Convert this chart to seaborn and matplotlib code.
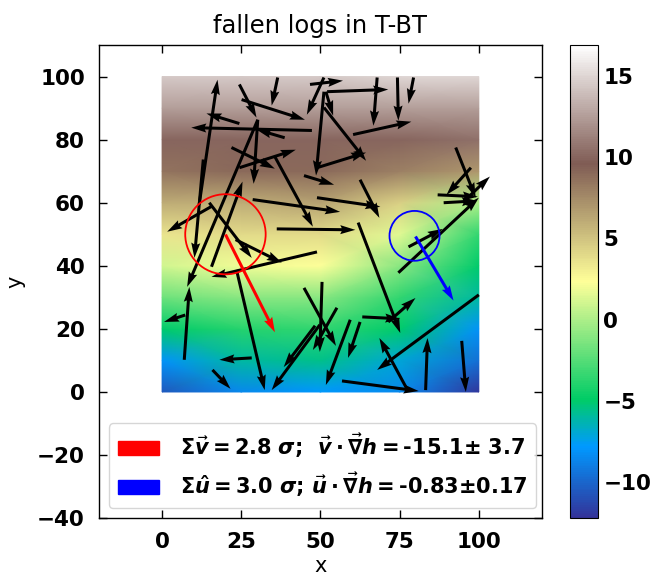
import numpy as np
import matplotlib
matplotlib.use("Agg")
import matplotlib.pyplot as plt
import matplotlib.patches as mpatches
import seaborn as sns

# height field on a coarse grid
grid_x = [0, 25, 50, 75, 100]
grid_y = [0, 10, 20, 30, 40, 50, 60, 70, 80, 90, 100]
height = [
    [-10.5, -8.5, -7.8, -8.5, -12.0],
    [-8.0, -6.0, -5.5, -7.0, -9.5],
    [-5.0, -3.8, -3.5, -5.0, -8.0],
    [-1.8, -1.0, -1.0, -3.5, -6.0],
    [1.0, 2.0, 2.3, -1.0, -5.0],
    [3.5, 4.0, 4.0, 1.5, -3.5],
    [6.0, 6.0, 6.5, 4.5, 0.0],
    [8.5, 9.0, 9.0, 8.0, 7.0],
    [10.0, 10.0, 10.0, 10.0, 10.5],
    [12.5, 12.5, 12.5, 12.5, 12.5],
    [14.5, 14.5, 14.5, 15.0, 15.0],
]

# fallen logs: start (tail) and end (head) points
log_x0 = [11.7, 13.0, 24.4, 25.1, 36.5, 24.4, 47.3, 38.7, 30.2, 21.9, 24.4, 15.6, 15.9,
          14.9, 23.2, 48.9, 23.5, 28.3, 15.9, 7.3, 7.0, 30.2, 46.7, 51.1, 52.1, 51.7,
          51.1, 51.1, 48.9, 44.8, 28.6, 35.6, 48.9, 36.2, 62.5, 60.3, 67.9, 74.3, 79.4,
          92.7, 97.5, 87.0, 88.9, 96.2, 74.6, 77.8, 50.5, 44.8, 55.2, 48.3, 49.8, 59.4,
          62.5, 61.9, 63.2, 71.4, 100.0, 77.5, 56.8, 83.2, 94.6]
log_y0 = [59.4, 73.7, 97.5, 92.7, 99.7, 85.1, 82.9, 80.6, 86.3, 77.5, 71.1, 39.7, 59.0,
          60.0, 48.3, 44.4, 38.7, 10.8, 7.0, 24.4, 10.2, 86.3, 97.5, 99.7, 95.2, 95.2,
          95.2, 90.2, 71.1, 68.6, 61.0, 74.6, 61.6, 51.7, 67.3, 81.6, 99.7, 99.7, 99.7,
          77.5, 71.1, 62.5, 60.0, 61.3, 37.8, 46.0, 34.9, 33.0, 26.7, 21.0, 21.3, 22.9,
          22.2, 53.7, 23.8, 22.2, 30.8, 0.6, 3.5, 0.6, 16.2]
log_x1 = [17.5, 10.2, 29.8, 45.1, 34.6, 14.0, 9.2, 29.8, 7.9, 35.6, 42.2, 25.4, 1.6,
          28.3, 37.8, 15.6, 32.4, 18.1, 21.6, 0.6, 8.6, 28.9, 57.1, 45.7, 71.4, 54.0,
          48.6, 64.4, 64.4, 54.3, 56.2, 47.6, 68.9, 61.0, 68.6, 78.7, 66.7, 74.6, 77.8,
          99.0, 89.8, 99.7, 99.4, 103.5, 100.0, 88.6, 49.8, 54.9, 47.6, 38.4, 34.6, 51.7,
          58.7, 75.2, 75.2, 80.0, 67.9, 68.6, 81.0, 83.8, 95.9]
log_y1 = [99.0, 42.5, 87.0, 86.3, 90.8, 88.3, 83.8, 83.2, 33.3, 70.8, 76.8, 66.7, 50.8,
          42.5, 41.0, 36.5, 0.6, 10.2, 1.0, 22.2, 33.3, 66.0, 98.7, 87.9, 95.9, 87.6,
          68.6, 73.3, 75.9, 65.7, 57.1, 52.4, 58.7, 51.4, 55.2, 85.7, 84.4, 86.0, 91.4,
          61.6, 62.5, 61.9, 60.6, 68.3, 61.6, 51.7, 12.7, 14.6, 13.3, 7.9, 0.6, 2.2,
          10.8, 18.7, 23.2, 29.8, 7.0, 17.1, 0.3, 17.1, 0.0]

# summary vectors and the circles around their origins
red_start, red_end = (20.0, 50.0), (35.6, 19.0)
blue_start, blue_end = (79.7, 49.5), (91.7, 29.2)
red_radius, blue_radius = 12.7, 7.9

label_red = r'$\Sigma\vec{v} = 2.8\ \sigma$;  $\vec{v}\cdot\vec{\nabla}h = $-15.1$\pm$ 3.7'
label_blue = r'$\Sigma\hat{u} = 3.0\ \sigma$; $\vec{u}\cdot\vec{\nabla}h = $-0.83$\pm$0.17'

sns.set_style("ticks")
plt.rcParams['font.family'] = ['DejaVu Sans']
plt.rcParams['text.color'] = 'black'
plt.rcParams['axes.labelcolor'] = 'black'
plt.rcParams['axes.edgecolor'] = 'black'
plt.rcParams['xtick.color'] = 'black'
plt.rcParams['ytick.color'] = 'black'
plt.rcParams['mathtext.fontset'] = 'custom'
plt.rcParams['mathtext.rm'] = 'DejaVu Sans:bold'
plt.rcParams['mathtext.it'] = 'DejaVu Sans:italic:bold'
plt.rcParams['mathtext.bf'] = 'DejaVu Sans:bold'

fig = plt.figure(figsize=(6.54, 5.77), dpi=100)
ax = fig.add_axes([0.151, 0.102, 0.678, 0.820])
cax = fig.add_axes([0.872, 0.102, 0.043, 0.820])

X, Y = np.meshgrid(grid_x, grid_y)
mesh = ax.pcolormesh(X, Y, np.array(height), cmap="terrain", shading="gouraud",
                     vmin=-12.2, vmax=16.9, zorder=0)

u = np.array(log_x1) - np.array(log_x0)
v = np.array(log_y1) - np.array(log_y0)
ax.quiver(log_x0, log_y0, u, v, angles="xy", scale_units="xy", scale=1,
          color="black", width=0.0068, zorder=3)

ax.quiver([red_start[0]], [red_start[1]], [red_end[0] - red_start[0]], [red_end[1] - red_start[1]],
          angles="xy", scale_units="xy", scale=1, color="red", width=0.0068, zorder=4)
ax.quiver([blue_start[0]], [blue_start[1]], [blue_end[0] - blue_start[0]], [blue_end[1] - blue_start[1]],
          angles="xy", scale_units="xy", scale=1, color="blue", width=0.0068, zorder=4)
ax.add_patch(mpatches.Circle(red_start, red_radius, fill=False, color="red", lw=1.3, zorder=4))
ax.add_patch(mpatches.Circle(blue_start, blue_radius, fill=False, color="blue", lw=1.3, zorder=4))

ax.set_xlim(-20, 120)
ax.set_ylim(-40, 110)
ax.set_xticks([0, 25, 50, 75, 100])
ax.set_yticks([-40, -20, 0, 20, 40, 60, 80, 100])
ax.set_xlabel("x", fontsize=15, labelpad=3)
ax.set_ylabel("y", fontsize=15, labelpad=8)
ax.set_title("fallen logs in T-BT", fontsize=17.5, pad=9)
ax.tick_params(direction="in", length=6, width=1, top=True, right=True, labelsize=15.5, pad=10)
for lab in ax.get_xticklabels() + ax.get_yticklabels():
    lab.set_fontweight("bold")
for sp in ax.spines.values():
    sp.set_linewidth(1)

handles = [mpatches.Patch(color="red", label=label_red),
           mpatches.Patch(color="blue", label=label_blue)]
ax.legend(handles=handles, loc="lower left", prop={"weight": "bold", "size": 15},
          handlelength=2.0, handletextpad=1.0, borderaxespad=0.5)

cb = fig.colorbar(mesh, cax=cax)
cb.set_ticks([-10, -5, 0, 5, 10, 15])
cax.tick_params(direction="in", length=6, width=1, labelsize=15.5)
for lab in cax.get_yticklabels():
    lab.set_fontweight("bold")

fig.savefig("out.png", dpi=100)
